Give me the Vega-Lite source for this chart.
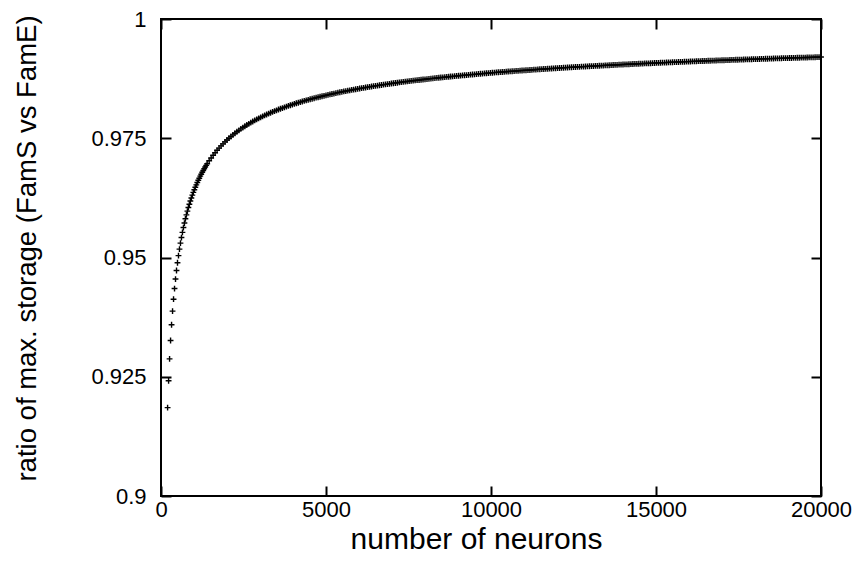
{
"$schema": "https://vega.github.io/schema/vega-lite/v6.json",
"width": 660, "height": 477,
"autosize": {"type": "none"},
"padding": {"left": 161, "top": 19, "right": 44, "bottom": 79},
"background": "white",
"config": {"view": {"stroke": "black", "strokeWidth": 2}, "font": "Liberation Sans"},
"data": {"values": [
{"n":200,"r":0.91853},{"n":230,"r":0.92415},{"n":260,"r":0.92875},{"n":290,"r":0.93260},{"n":320,"r":0.93590},{"n":350,"r":0.93876},{"n":380,"r":0.94126},{"n":410,"r":0.94349},{"n":440,"r":0.94548},{"n":470,"r":0.94727},
{"n":500,"r":0.94890},{"n":530,"r":0.95039},{"n":560,"r":0.95176},{"n":590,"r":0.95302},{"n":620,"r":0.95418},{"n":650,"r":0.95527},{"n":680,"r":0.95628},{"n":710,"r":0.95722},{"n":740,"r":0.95811},{"n":770,"r":0.95894},
{"n":800,"r":0.95973},{"n":830,"r":0.96047},{"n":860,"r":0.96117},{"n":890,"r":0.96184},{"n":920,"r":0.96248},{"n":950,"r":0.96308},{"n":980,"r":0.96365},{"n":1010,"r":0.96420},{"n":1040,"r":0.96473},{"n":1070,"r":0.96523},
{"n":1100,"r":0.96571},{"n":1130,"r":0.96618},{"n":1160,"r":0.96662},{"n":1190,"r":0.96705},{"n":1220,"r":0.96746},{"n":1250,"r":0.96786},{"n":1280,"r":0.96824},{"n":1310,"r":0.96861},{"n":1340,"r":0.96896},{"n":1370,"r":0.96931},
{"n":1400,"r":0.96964},{"n":1460,"r":0.97028},{"n":1520,"r":0.97086},{"n":1580,"r":0.97144},{"n":1640,"r":0.97196},{"n":1700,"r":0.97247},{"n":1760,"r":0.97294},{"n":1820,"r":0.97340},{"n":1880,"r":0.97382},{"n":1940,"r":0.97424},
{"n":2000,"r":0.97463},{"n":2060,"r":0.97501},{"n":2120,"r":0.97536},{"n":2180,"r":0.97571},{"n":2240,"r":0.97604},{"n":2300,"r":0.97636},{"n":2360,"r":0.97666},{"n":2420,"r":0.97696},{"n":2480,"r":0.97724},{"n":2540,"r":0.97751},
{"n":2600,"r":0.97777},{"n":2660,"r":0.97803},{"n":2720,"r":0.97827},{"n":2780,"r":0.97851},{"n":2840,"r":0.97874},{"n":2900,"r":0.97896},{"n":2960,"r":0.97918},{"n":3020,"r":0.97939},{"n":3080,"r":0.97959},{"n":3140,"r":0.97979},
{"n":3200,"r":0.97998},{"n":3260,"r":0.98017},{"n":3320,"r":0.98035},{"n":3380,"r":0.98052},{"n":3440,"r":0.98069},{"n":3500,"r":0.98086},{"n":3560,"r":0.98102},{"n":3620,"r":0.98118},{"n":3680,"r":0.98133},{"n":3740,"r":0.98149},
{"n":3800,"r":0.98163},{"n":3860,"r":0.98178},{"n":3920,"r":0.98192},{"n":3980,"r":0.98206},{"n":4040,"r":0.98219},{"n":4100,"r":0.98233},{"n":4160,"r":0.98245},{"n":4220,"r":0.98258},{"n":4280,"r":0.98270},{"n":4340,"r":0.98282},
{"n":4400,"r":0.98294},{"n":4460,"r":0.98306},{"n":4520,"r":0.98317},{"n":4580,"r":0.98328},{"n":4640,"r":0.98338},{"n":4700,"r":0.98350},{"n":4760,"r":0.98360},{"n":4820,"r":0.98370},{"n":4880,"r":0.98380},{"n":4940,"r":0.98390},
{"n":5000,"r":0.98400},{"n":5060,"r":0.98410},{"n":5120,"r":0.98419},{"n":5180,"r":0.98428},{"n":5240,"r":0.98437},{"n":5300,"r":0.98446},{"n":5360,"r":0.98456},{"n":5420,"r":0.98464},{"n":5480,"r":0.98472},{"n":5540,"r":0.98481},
{"n":5600,"r":0.98489},{"n":5660,"r":0.98497},{"n":5720,"r":0.98505},{"n":5780,"r":0.98513},{"n":5840,"r":0.98521},{"n":5900,"r":0.98528},{"n":5960,"r":0.98536},{"n":6020,"r":0.98543},{"n":6080,"r":0.98550},{"n":6140,"r":0.98557},
{"n":6200,"r":0.98564},{"n":6260,"r":0.98571},{"n":6320,"r":0.98578},{"n":6380,"r":0.98585},{"n":6440,"r":0.98591},{"n":6500,"r":0.98598},{"n":6560,"r":0.98604},{"n":6620,"r":0.98611},{"n":6680,"r":0.98617},{"n":6740,"r":0.98623},
{"n":6800,"r":0.98629},{"n":6860,"r":0.98635},{"n":6920,"r":0.98641},{"n":6980,"r":0.98647},{"n":7040,"r":0.98653},{"n":7100,"r":0.98658},{"n":7160,"r":0.98664},{"n":7220,"r":0.98670},{"n":7280,"r":0.98675},{"n":7340,"r":0.98681},
{"n":7400,"r":0.98686},{"n":7460,"r":0.98691},{"n":7520,"r":0.98697},{"n":7580,"r":0.98702},{"n":7640,"r":0.98707},{"n":7700,"r":0.98712},{"n":7760,"r":0.98717},{"n":7820,"r":0.98722},{"n":7880,"r":0.98727},{"n":7940,"r":0.98731},
{"n":8000,"r":0.98736},{"n":8060,"r":0.98741},{"n":8120,"r":0.98746},{"n":8180,"r":0.98750},{"n":8240,"r":0.98755},{"n":8300,"r":0.98759},{"n":8360,"r":0.98764},{"n":8420,"r":0.98769},{"n":8480,"r":0.98773},{"n":8540,"r":0.98777},
{"n":8600,"r":0.98781},{"n":8660,"r":0.98785},{"n":8720,"r":0.98790},{"n":8780,"r":0.98794},{"n":8840,"r":0.98798},{"n":8900,"r":0.98802},{"n":8960,"r":0.98806},{"n":9020,"r":0.98810},{"n":9080,"r":0.98814},{"n":9140,"r":0.98818},
{"n":9200,"r":0.98821},{"n":9260,"r":0.98825},{"n":9320,"r":0.98829},{"n":9380,"r":0.98833},{"n":9440,"r":0.98837},{"n":9500,"r":0.98840},{"n":9560,"r":0.98844},{"n":9620,"r":0.98848},{"n":9680,"r":0.98852},{"n":9740,"r":0.98855},
{"n":9800,"r":0.98859},{"n":9860,"r":0.98862},{"n":9920,"r":0.98866},{"n":9980,"r":0.98869},{"n":10040,"r":0.98873},{"n":10100,"r":0.98876},{"n":10160,"r":0.98880},{"n":10220,"r":0.98883},{"n":10280,"r":0.98886},{"n":10340,"r":0.98889},
{"n":10400,"r":0.98892},{"n":10460,"r":0.98895},{"n":10520,"r":0.98899},{"n":10580,"r":0.98902},{"n":10640,"r":0.98905},{"n":10700,"r":0.98908},{"n":10760,"r":0.98911},{"n":10820,"r":0.98914},{"n":10880,"r":0.98917},{"n":10940,"r":0.98920},
{"n":11000,"r":0.98923},{"n":11060,"r":0.98926},{"n":11120,"r":0.98929},{"n":11180,"r":0.98931},{"n":11240,"r":0.98934},{"n":11300,"r":0.98937},{"n":11360,"r":0.98940},{"n":11420,"r":0.98943},{"n":11480,"r":0.98946},{"n":11540,"r":0.98948},
{"n":11600,"r":0.98951},{"n":11660,"r":0.98954},{"n":11720,"r":0.98957},{"n":11780,"r":0.98959},{"n":11840,"r":0.98962},{"n":11900,"r":0.98965},{"n":11960,"r":0.98967},{"n":12020,"r":0.98970},{"n":12080,"r":0.98973},{"n":12140,"r":0.98975},
{"n":12200,"r":0.98978},{"n":12260,"r":0.98980},{"n":12320,"r":0.98983},{"n":12380,"r":0.98985},{"n":12440,"r":0.98988},{"n":12500,"r":0.98990},{"n":12560,"r":0.98993},{"n":12620,"r":0.98995},{"n":12680,"r":0.98997},{"n":12740,"r":0.99000},
{"n":12800,"r":0.99002},{"n":12860,"r":0.99004},{"n":12920,"r":0.99007},{"n":12980,"r":0.99009},{"n":13040,"r":0.99011},{"n":13100,"r":0.99013},{"n":13160,"r":0.99016},{"n":13220,"r":0.99018},{"n":13280,"r":0.99020},{"n":13340,"r":0.99022},
{"n":13400,"r":0.99024},{"n":13460,"r":0.99027},{"n":13520,"r":0.99029},{"n":13580,"r":0.99031},{"n":13640,"r":0.99033},{"n":13700,"r":0.99035},{"n":13760,"r":0.99037},{"n":13820,"r":0.99040},{"n":13880,"r":0.99042},{"n":13940,"r":0.99044},
{"n":14000,"r":0.99046},{"n":14060,"r":0.99048},{"n":14120,"r":0.99050},{"n":14180,"r":0.99052},{"n":14240,"r":0.99054},{"n":14300,"r":0.99056},{"n":14360,"r":0.99058},{"n":14420,"r":0.99060},{"n":14480,"r":0.99062},{"n":14540,"r":0.99064},
{"n":14600,"r":0.99066},{"n":14660,"r":0.99068},{"n":14720,"r":0.99070},{"n":14780,"r":0.99071},{"n":14840,"r":0.99073},{"n":14900,"r":0.99075},{"n":14960,"r":0.99077},{"n":15020,"r":0.99079},{"n":15080,"r":0.99081},{"n":15140,"r":0.99083},
{"n":15200,"r":0.99084},{"n":15260,"r":0.99086},{"n":15320,"r":0.99088},{"n":15380,"r":0.99090},{"n":15440,"r":0.99092},{"n":15500,"r":0.99093},{"n":15560,"r":0.99095},{"n":15620,"r":0.99097},{"n":15680,"r":0.99099},{"n":15740,"r":0.99100},
{"n":15800,"r":0.99102},{"n":15860,"r":0.99104},{"n":15920,"r":0.99106},{"n":15980,"r":0.99107},{"n":16040,"r":0.99109},{"n":16100,"r":0.99111},{"n":16160,"r":0.99112},{"n":16220,"r":0.99114},{"n":16280,"r":0.99116},{"n":16340,"r":0.99117},
{"n":16400,"r":0.99119},{"n":16460,"r":0.99120},{"n":16520,"r":0.99122},{"n":16580,"r":0.99124},{"n":16640,"r":0.99125},{"n":16700,"r":0.99127},{"n":16760,"r":0.99128},{"n":16820,"r":0.99130},{"n":16880,"r":0.99132},{"n":16940,"r":0.99133},
{"n":17000,"r":0.99135},{"n":17060,"r":0.99136},{"n":17120,"r":0.99138},{"n":17180,"r":0.99139},{"n":17240,"r":0.99141},{"n":17300,"r":0.99142},{"n":17360,"r":0.99144},{"n":17420,"r":0.99145},{"n":17480,"r":0.99146},{"n":17540,"r":0.99148},
{"n":17600,"r":0.99149},{"n":17660,"r":0.99151},{"n":17720,"r":0.99152},{"n":17780,"r":0.99153},{"n":17840,"r":0.99155},{"n":17900,"r":0.99156},{"n":17960,"r":0.99158},{"n":18020,"r":0.99159},{"n":18080,"r":0.99160},{"n":18140,"r":0.99162},
{"n":18200,"r":0.99163},{"n":18260,"r":0.99165},{"n":18320,"r":0.99166},{"n":18380,"r":0.99167},{"n":18440,"r":0.99169},{"n":18500,"r":0.99170},{"n":18560,"r":0.99172},{"n":18620,"r":0.99173},{"n":18680,"r":0.99174},{"n":18740,"r":0.99175},
{"n":18800,"r":0.99177},{"n":18860,"r":0.99178},{"n":18920,"r":0.99180},{"n":18980,"r":0.99181},{"n":19040,"r":0.99182},{"n":19100,"r":0.99183},{"n":19160,"r":0.99185},{"n":19220,"r":0.99186},{"n":19280,"r":0.99187},{"n":19340,"r":0.99188},
{"n":19400,"r":0.99190},{"n":19460,"r":0.99191},{"n":19520,"r":0.99192},{"n":19580,"r":0.99193},{"n":19640,"r":0.99194},{"n":19700,"r":0.99196},{"n":19760,"r":0.99197},{"n":19820,"r":0.99198},{"n":19880,"r":0.99199},{"n":19940,"r":0.99200},
{"n":20000,"r":0.99202}
]},
"layer": [
{"mark": {"type": "point", "shape": "M-1,0H1M0,-1V1", "filled": false, "stroke": "black", "strokeWidth": 1.4, "size": 34, "opacity": 1},
 "encoding": {
  "x": {"field": "n", "type": "quantitative", "scale": {"domain": [0, 20000], "nice": false, "zero": false},
   "axis": {"orient": "bottom", "title": "number of neurons", "values": [0, 5000, 10000, 15000, 20000], "format": "d",
    "domain": false, "grid": false, "ticks": true, "tickSize": -10, "tickWidth": 2, "tickColor": "black",
    "labelPadding": 13, "labelFontSize": 22, "labelColor": "black", "labelFont": "Liberation Sans", "labelFlush": false,
    "titleFontSize": 30, "titleFontWeight": "normal", "titleColor": "black", "titleFont": "Liberation Sans",
    "titleX": 315, "titleY": 52, "titleAlign": "center", "titleBaseline": "alphabetic"}},
  "y": {"field": "r", "type": "quantitative", "scale": {"domain": [0.9, 1], "nice": false, "zero": false},
   "axis": {"orient": "left", "title": "ratio of max. storage (FamS vs FamE)", "values": [0.9, 0.925, 0.95, 0.975, 1], "format": ".3~f",
    "domain": false, "grid": false, "ticks": true, "tickSize": -10, "tickWidth": 2, "tickColor": "black",
    "labelPadding": 25, "labelFontSize": 22, "labelColor": "black", "labelFont": "Liberation Sans", "labelFlush": false,
    "titleFontSize": 27.5, "titleFontWeight": "normal", "titleColor": "black", "titleFont": "Liberation Sans",
    "titleX": -126, "titleY": 229, "titleAngle": -90, "titleAlign": "center", "titleBaseline": "alphabetic"}}
 }},
{"mark": {"type": "point", "opacity": 0},
 "encoding": {
  "x": {"field": "n", "type": "quantitative",
   "axis": {"orient": "top", "title": null, "labels": false, "values": [0, 5000, 10000, 15000, 20000],
    "domain": false, "grid": false, "ticks": true, "tickSize": -10, "tickWidth": 2, "tickColor": "black"}},
  "y": {"field": "r", "type": "quantitative",
   "axis": {"orient": "right", "title": null, "labels": false, "values": [0.9, 0.925, 0.95, 0.975, 1],
    "domain": false, "grid": false, "ticks": true, "tickSize": -10, "tickWidth": 2, "tickColor": "black"}}
 }}
]
}
